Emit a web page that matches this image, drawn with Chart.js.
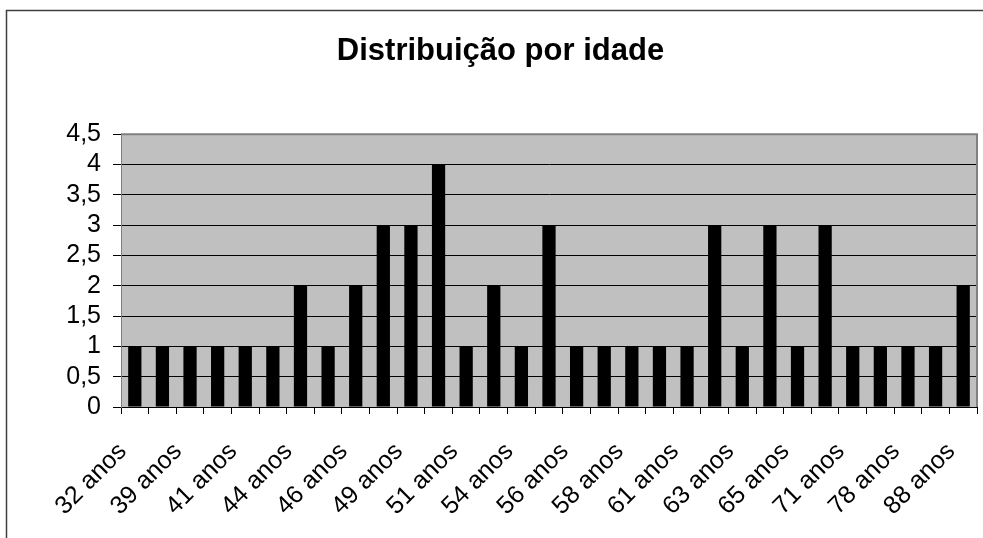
<!DOCTYPE html>
<html lang="pt-br">

<head>
  <meta charset="UTF-8">
  <title> Distribuição por idade </title>
  <script src="https://cdn.jsdelivr.net/npm/chart.js"></script>
  <style>
    html, body { margin: 0; padding: 0; background: #ffffff; }
    .grafico { position: relative; width: 983px; height: 538px; }
  </style>
</head>

<body>
  <div class="grafico">
    <canvas id="graficoIdade"></canvas>
  </div>

  <script>
    // idades (só as pares aparecem no eixo)
    const idades = ['32 anos', '36 anos', '39 anos', '40 anos', '41 anos', '42 anos', '44 anos', '45 anos',
      '46 anos', '48 anos', '49 anos', '50 anos', '51 anos', '53 anos', '54 anos', '55 anos', '56 anos',
      '57 anos', '58 anos', '60 anos', '61 anos', '62 anos', '63 anos', '64 anos', '65 anos', '67 anos',
      '71 anos', '74 anos', '78 anos', '83 anos', '88 anos'];
    const quantidades = [1, 1, 1, 1, 1, 1, 2, 1, 2, 3, 3, 4, 1, 2, 1, 3, 1, 1, 1, 1, 1, 3, 1, 3, 1, 3, 1, 1, 1, 1, 2];
    const ticksY = [0, 0.5, 1, 1.5, 2, 2.5, 3, 3.5, 4, 4.5];

    const fonte = "'Liberation Sans', Arial, sans-serif";

    // moldura e fundo cinza da área do gráfico
    const fundoPlugin = {
      id: 'fundoCinza',
      beforeDraw: (chart) => {
        const ctx = chart.ctx;
        const a = chart.chartArea;
        ctx.save();
        ctx.fillStyle = '#c0c0c0';
        ctx.fillRect(a.left, a.top, a.right - a.left, a.bottom - a.top);
        ctx.strokeStyle = '#404040';
        ctx.lineWidth = 1.5;
        ctx.beginPath();
        ctx.moveTo(6.5, chart.height);
        ctx.lineTo(6.5, 10.5);
        ctx.lineTo(chart.width, 10.5);
        ctx.stroke();
        ctx.restore();
      },
      afterDatasetsDraw: (chart) => {
        const ctx = chart.ctx;
        const a = chart.chartArea;
        ctx.save();
        ctx.strokeStyle = '#808080';
        ctx.lineWidth = 2;
        ctx.beginPath();
        ctx.moveTo(a.left, a.top);
        ctx.lineTo(a.right, a.top);
        ctx.lineTo(a.right, a.bottom);
        ctx.stroke();
        ctx.restore();
      }
    };

    new Chart(document.getElementById('graficoIdade'), {
      type: 'bar',
      data: {
        labels: idades,
        datasets: [{
          label: 'Idade',
          data: quantidades,
          backgroundColor: '#000000',
          barPercentage: 0.48,
          categoryPercentage: 1
        }]
      },
      options: {
        responsive: true,
        maintainAspectRatio: false,
        animation: false,
        layout: { padding: { left: 24, right: 6, top: 0, bottom: 0 } },
        plugins: {
          legend: { display: false },
          tooltip: { enabled: false },
          title: {
            display: true,
            text: 'Distribuição por idade',
            color: '#000000',
            font: { family: fonte, size: 31, weight: 'bold' },
            padding: { top: 33, bottom: 64 }
          }
        },
        scales: {
          x: {
            afterFit: (scale) => {
              scale.height = 131;
              scale.paddingLeft = 0;
              scale.paddingRight = 0;
            },
            border: { color: '#000000', width: 1 },
            grid: {
              offset: true,
              drawOnChartArea: false,
              tickLength: 7,
              tickColor: '#000000'
            },
            ticks: {
              autoSkip: false,
              maxRotation: 45,
              minRotation: 45,
              padding: 23,
              labelOffset: -12,
              color: '#000000',
              font: { family: fonte, size: 25 },
              callback: (valor, i) => i % 2 === 0 ? idades[i] : ''
            }
          },
          y: {
            min: 0,
            max: 4.5,
            afterFit: (scale) => { scale.width = 97; },
            afterBuildTicks: (scale) => { scale.ticks = ticksY.map(v => ({ value: v })); },
            border: { color: '#808080', width: 1 },
            grid: {
              color: (c) => c.tick && c.tick.value === 4.5 ? '#808080' : '#000000',
              tickColor: '#000000',
              tickLength: 8
            },
            ticks: {
              autoSkip: false,
              padding: 12,
              color: '#000000',
              font: { family: fonte, size: 25 },
              callback: (valor) => String(valor).replace('.', ',')
            }
          }
        }
      },
      plugins: [fundoPlugin]
    });
  </script>
</body>

</html>
